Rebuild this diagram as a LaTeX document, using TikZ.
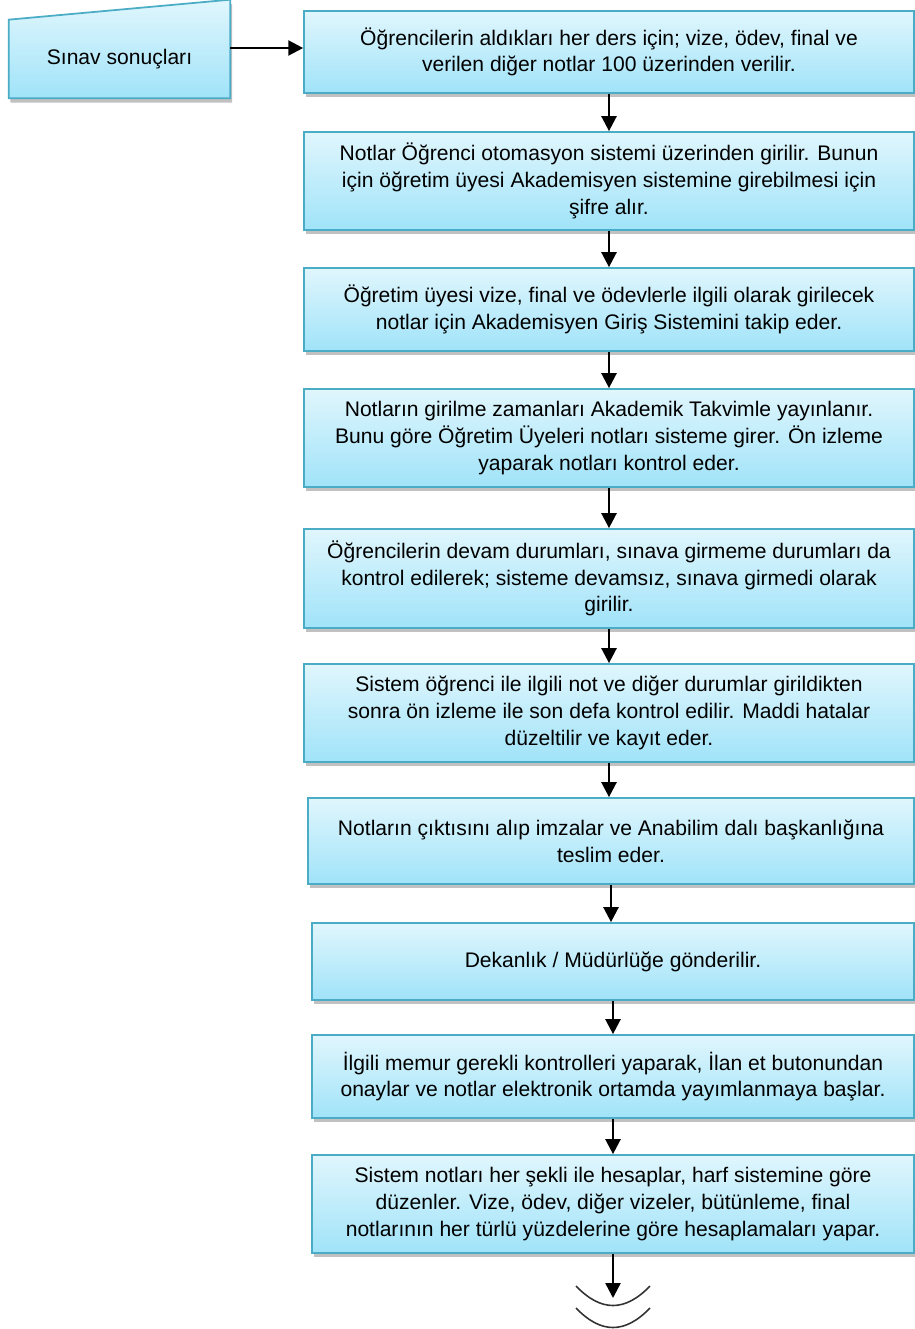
\documentclass[tikz,border=0pt]{standalone}
\usepackage{fontspec}
\setmainfont{Liberation Sans}
\usetikzlibrary{arrows.meta,shadows,backgrounds,calc}

\definecolor{kenar}{RGB}{75,172,198}
\definecolor{ustrenk}{RGB}{224,246,253}
\definecolor{altrenk}{RGB}{160,227,249}

\begin{document}
\begin{tikzpicture}[x=0.02cm,y=-0.02cm,
  kutu/.style={draw=kenar,line width=1pt,top color=ustrenk,bottom color=altrenk,
    drop shadow={shadow xshift=1pt,shadow yshift=-2.5pt,opacity=0.35,fill=black!70},
    minimum width=12.2cm,align=center,inner sep=2pt,
    font=\fontsize{12pt}{15.2pt}\selectfont},
  girdi/.style={draw=kenar,line width=1pt,top color=ustrenk,bottom color=altrenk,
    drop shadow={shadow xshift=1pt,shadow yshift=-2.5pt,opacity=0.35,fill=black!70}},
  ok/.style={line width=1.4pt,-{Triangle[length=8.5pt,width=8.5pt]}}]
\useasboundingbox (0,0) rectangle (915,1329);

% giris
\node[minimum width=4.42cm,minimum height=1.56cm,font=\fontsize{12pt}{15.2pt}\selectfont] (sinav) at (119.5,59) {Sınav sonuçları};
\begin{scope}[on background layer]
\draw[girdi] (sinav.south west) -- (sinav.north west) -- ($(sinav.north east)+(0,-20)$) -- (sinav.south east) -- cycle;
\end{scope}

% adimlar
\node[kutu,minimum height=1.64cm] (b1) at (609,52) {Öğrencilerin aldıkları her ders için; vize, ödev, final ve\\verilen diğer notlar 100 üzerinden verilir.};
\node[kutu,minimum height=1.96cm] (b2) at (609,181) {Notlar Öğrenci otomasyon sistemi üzerinden girilir. Bunun\\için öğretim üyesi Akademisyen sistemine girebilmesi için\\şifre alır.};
\node[kutu,minimum height=1.66cm] (b3) at (609,309.5) {Öğretim üyesi vize, final ve ödevlerle ilgili olarak girilecek\\notlar için Akademisyen Giriş Sistemini takip eder.};
\node[kutu,minimum height=1.96cm] (b4) at (609,438) {Notların girilme zamanları Akademik Takvimle yayınlanır.\\Bunu göre Öğretim Üyeleri notları sisteme girer. Ön izleme\\yaparak notları kontrol eder.};
\node[kutu,minimum height=1.98cm] (b5) at (609,578.5) {Öğrencilerin devam durumları, sınava girmeme durumları da\\kontrol edilerek; sisteme devamsız, sınava girmedi olarak\\girilir.};
\node[kutu,minimum height=1.96cm] (b6) at (609,713) {Sistem öğrenci ile ilgili not ve diğer durumlar girildikten\\sonra ön izleme ile son defa kontrol edilir. Maddi hatalar\\düzeltilir ve kayıt eder.};
\node[kutu,minimum height=1.72cm,minimum width=12.12cm] (b7) at (611,841) {Notların çıktısını alıp imzalar ve Anabilim dalı başkanlığına\\teslim eder.};
\node[kutu,minimum height=1.54cm,minimum width=12.04cm] (b8) at (613,961.5) {Dekanlık / Müdürlüğe gönderilir.};
\node[kutu,minimum height=1.66cm,minimum width=12.04cm] (b9) at (613,1076.5) {İlgili memur gerekli kontrolleri yaparak, İlan et butonundan\\onaylar ve notlar elektronik ortamda yayımlanmaya başlar.};
\node[kutu,minimum height=1.96cm,minimum width=12.04cm] (b10) at (613,1204) {Sistem notları her şekli ile hesaplar, harf sistemine göre\\düzenler. Vize, ödev, diğer vizeler, bütünleme, final\\notlarının her türlü yüzdelerine göre hesaplamaları yapar.};

% oklar
\draw[ok] ($(sinav.east)+(0,-11)$) -- ($(sinav.east -| b1.west)+(0,-11)$);
\draw[ok] (b1.south) -- (b1.south |- b2.north);
\draw[ok] (b2.south) -- (b2.south |- b3.north);
\draw[ok] (b3.south) -- (b3.south |- b4.north);
\draw[ok] (b4.south) -- (b4.south |- b5.north);
\draw[ok] (b5.south) -- (b5.south |- b6.north);
\draw[ok] (b6.south) -- (b6.south |- b7.north);
\draw[ok] (b7.south) -- (b7.south |- b8.north);
\draw[ok] (b8.south) -- (b8.south |- b9.north);
\draw[ok] (b9.south) -- (b9.south |- b10.north);

% son
\coordinate (son) at (613,1298);
\draw[ok] (b10.south) -- (son);
\draw[line width=0.9pt,black!80] ($(son)+(-37,-12)$) .. controls ($(son)+(-12,14)$) and ($(son)+(12,14)$) .. ($(son)+(37,-12)$);
\draw[line width=0.9pt,black!80] ($(son)+(-37,10)$) .. controls ($(son)+(-12,36)$) and ($(son)+(12,36)$) .. ($(son)+(37,10)$);
\end{tikzpicture}
\end{document}
